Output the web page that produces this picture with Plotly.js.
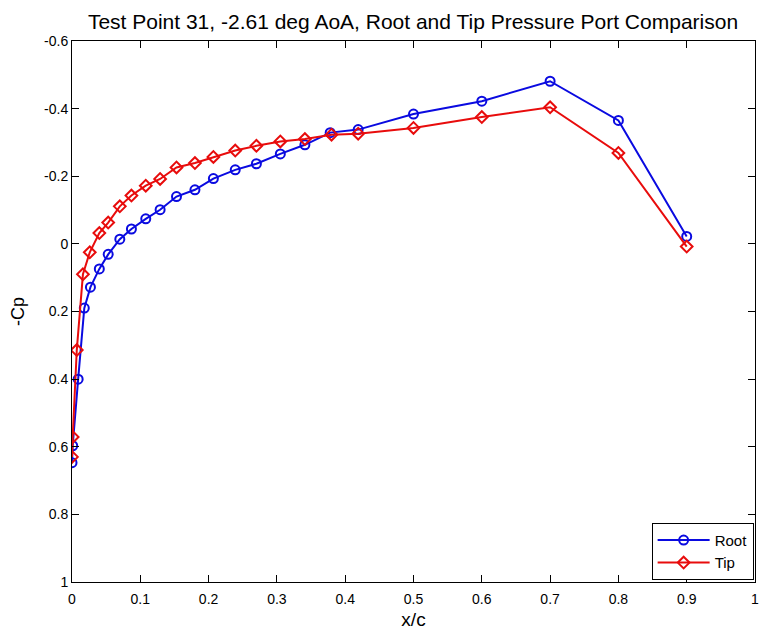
<!DOCTYPE html>
<html>
<head>
<meta charset="utf-8">
<script src="https://cdn.plot.ly/plotly-3.0.1.min.js"></script>
<style>html,body{margin:0;padding:0;background:#fff;}#chart{width:760px;height:630px;}</style>
</head>
<body>
<div id="chart"></div>
<script>
const rootX = [0, 0.001, 0.009, 0.018, 0.027, 0.04, 0.053, 0.07, 0.087, 0.108, 0.129, 0.153, 0.18, 0.207, 0.239, 0.27, 0.305, 0.341, 0.378, 0.419, 0.5, 0.6, 0.7, 0.8, 0.9];
const rootCp = [0.647, 0.597, 0.40, 0.19, 0.128, 0.074, 0.031, -0.014, -0.044, -0.074, -0.101, -0.140, -0.160, -0.193, -0.219, -0.237, -0.266, -0.293, -0.329, -0.338, -0.384, -0.422, -0.481, -0.365, -0.022];
const tipX = [0, 0.001, 0.007, 0.016, 0.026, 0.04, 0.053, 0.07, 0.087, 0.108, 0.129, 0.153, 0.18, 0.207, 0.239, 0.27, 0.305, 0.341, 0.38, 0.419, 0.5, 0.6, 0.7, 0.8, 0.9];
const tipCp = [0.630, 0.571, 0.314, 0.090, 0.025, -0.032, -0.063, -0.111, -0.143, -0.172, -0.192, -0.226, -0.239, -0.257, -0.276, -0.290, -0.303, -0.310, -0.323, -0.326, -0.343, -0.375, -0.404, -0.269, 0.008];
const xTicks = [0, 0.1, 0.2, 0.3, 0.4, 0.5, 0.6, 0.7, 0.8, 0.9, 1];
const xTickText = ['0','0.1','0.2','0.3','0.4','0.5','0.6','0.7','0.8','0.9','1'];
const yTicks = [-0.6, -0.4, -0.2, 0, 0.2, 0.4, 0.6, 0.8, 1];
const yTickText = ['-0.6','-0.4','-0.2','0','0.2','0.4','0.6','0.8','1'];

const FONT = 'Liberation Sans, Arial, sans-serif';
const traces = [
  {x: rootX, y: rootCp, name: 'Root', mode: 'lines+markers', type: 'scatter',
   line: {color: '#0a0ae0', width: 2},
   marker: {symbol: 'circle-open', size: 9, color: '#0a0ae0', line: {width: 2}}},
  {x: tipX, y: tipCp, name: 'Tip', mode: 'lines+markers', type: 'scatter',
   line: {color: '#e80c0c', width: 2},
   marker: {symbol: 'diamond-open', size: 9, color: '#e80c0c', line: {width: 2}}}
];
const axisCommon = {
  showgrid: false, zeroline: false, showline: true, linecolor: '#000', linewidth: 1,
  mirror: 'allticks', ticks: 'inside', ticklen: 7, tickcolor: '#000',
  tickfont: {family: FONT, size: 14, color: '#000'}
};
const layout = {
  width: 760, height: 630,
  margin: {l: 72, r: 5, t: 41, b: 48},
  paper_bgcolor: '#fff', plot_bgcolor: '#fff',
  title: {text: 'Test Point 31, -2.61 deg AoA, Root and Tip Pressure Port Comparison',
          font: {family: FONT, size: 21, color: '#000'}, x: 413/760, xanchor: 'center', y: 1 - 22/630, yanchor: 'middle'},
  xaxis: Object.assign({}, axisCommon, {range: [0, 1], tickvals: xTicks, ticktext: xTickText,
          ticklabelstandoff: 4,
          title: {text: 'x/c', font: {family: FONT, size: 19, color: '#000'}, standoff: 6}}),
  yaxis: Object.assign({}, axisCommon, {range: [1, -0.6], tickvals: yTicks, ticktext: yTickText,
          title: {text: '-Cp', font: {family: FONT, size: 18, color: '#000'}, standoff: 14}}),
  showlegend: true,
  legend: {x: 0.998, y: 0.004, xanchor: 'right', yanchor: 'bottom', bgcolor: '#fff',
           bordercolor: '#000', borderwidth: 1, font: {family: FONT, size: 15, color: '#000'},
           tracegroupgap: 0, itemwidth: 52}
};
Plotly.newPlot('chart', traces, layout, {displayModeBar: false, staticPlot: true});
</script>
</body>
</html>
